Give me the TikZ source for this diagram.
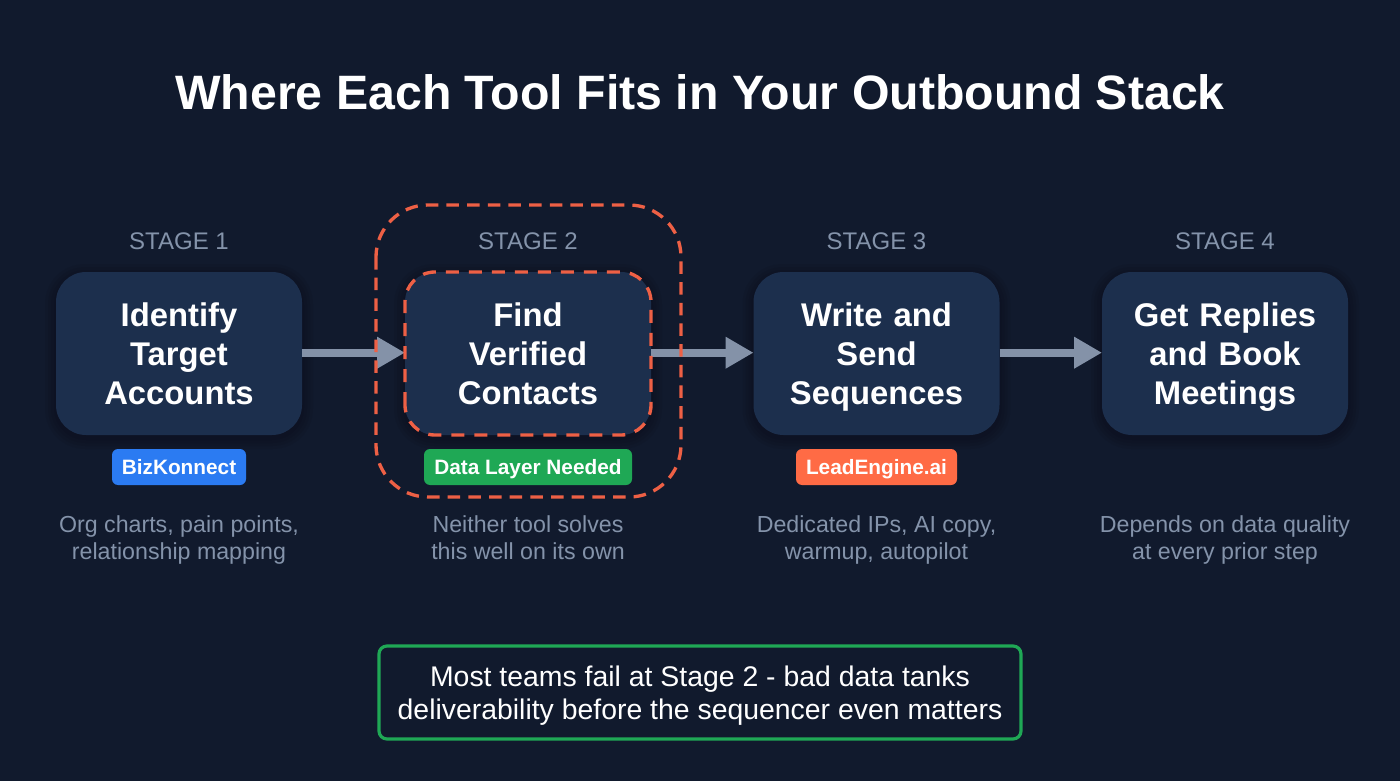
\documentclass[tikz,border=0pt]{standalone}
\usepackage{fontspec}
\setmainfont{Liberation Sans}
\usetikzlibrary{arrows.meta,positioning}
\definecolor{bgc}{HTML}{111A2D}
\definecolor{boxc}{HTML}{1C2F4D}
\definecolor{redc}{HTML}{EE6045}
\definecolor{greenc}{HTML}{1FA855}
\definecolor{bluec}{HTML}{2B7BF2}
\definecolor{orangec}{HTML}{FF6B45}
\definecolor{graytxt}{HTML}{8493AA}
\definecolor{arrowc}{HTML}{8492A8}
\definecolor{notec}{HTML}{111A2D}
\tikzset{
  every node/.style={inner sep=0pt,outer sep=0pt,text=white},
  stage/.style={text width=246*0.75pt,minimum width=246*0.75pt,minimum height=163*0.75pt,rounded corners=22.5pt,fill=boxc,align=center,font=\fontsize{24.6pt}{29.25pt}\selectfont\bfseries},
  stagelabel/.style={text=graytxt,font=\fontsize{18pt}{23pt}\selectfont},
  pill/.style={minimum height=36*0.75pt,rounded corners=4.5pt,font=\fontsize{15.6pt}{18pt}\selectfont\bfseries},
  desc/.style={text=graytxt,align=center,font=\fontsize{17.4pt}{20.25pt}\selectfont},
  flow/.style={draw=arrowc,line width=6pt,-{Triangle[length=21pt,width=22.5pt]}},
  reddash/.style={draw=redc,line width=2.5pt},
  softshadow/.style={fill=black,fill opacity=0.05},
}
% line strut that centres the capitals on the node's centre, whatever the descenders
\newcommand{\sline}[1]{\rule[-0.142em]{0pt}{1em}\smash{#1}}
\begin{document}
\begin{tikzpicture}[x=0.75pt,y=-0.75pt]
\useasboundingbox (0,0) rectangle (1400,781);
\fill[bgc] (0,0) rectangle (1400,781);
\node[font=\fontsize{36.2pt}{46pt}\selectfont\bfseries] (title) at (700,92) {\sline{Where Each Tool Fits in Your Outbound Stack}};
% soft shadows
\foreach \x in {179,528,876.5,1225}{
  \foreach \g/\r in {2/24,5/26,8/28,11/30}{
    \fill[softshadow,rounded corners=\r pt] (\x-123-\g,272+3-\g) rectangle (\x+123+\g,435+3+\g);
  }
}
% stages
\node[stage] (s1) at (179,353.5) {\sline{Identify}\\\sline{Target}\\\sline{Accounts}};
\node[stage] (s2) at (528,353.5) {\sline{Find}\\\sline{Verified}\\\sline{Contacts}};
\node[stage] (s3) at (876.5,353.5) {\sline{Write and}\\\sline{Send}\\\sline{Sequences}};
\node[stage] (s4) at (1225,353.5) {\sline{Get Replies}\\\sline{and Book}\\\sline{Meetings}};
\node[stagelabel] (l1) at (179,241) {\sline{STAGE 1}};
\node[stagelabel] (l2) at (528,241) {\sline{STAGE 2}};
\node[stagelabel] (l3) at (876.5,241) {\sline{STAGE 3}};
\node[stagelabel] (l4) at (1225,241) {\sline{STAGE 4}};
% arrows
\draw[flow] ([yshift=0.6pt]s1.east) -- ([yshift=0.6pt]s2.west);
\draw[flow] ([yshift=0.6pt]s2.east) -- ([yshift=0.6pt]s3.west);
\draw[flow] ([yshift=0.6pt]s3.east) -- ([yshift=0.6pt]s4.west);
% dashed highlights
\draw[reddash,dash pattern=on 9.75pt off 7.5pt,rounded corners=22.5pt] (s2.south west) rectangle (s2.north east);
\draw[reddash,dash pattern=on 9.4pt off 6.1pt,rounded corners=39pt] (376,205) rectangle (681,497);
% pills
\node[pill,fill=bluec,minimum width=134*0.75pt] (p1) at (179,467) {\sline{BizKonnect}};
\node[pill,fill=greenc,minimum width=208*0.75pt] (p2) at (528,467) {\sline{Data Layer Needed}};
\node[pill,fill=orangec,minimum width=161*0.75pt] (p3) at (876.5,467) {\sline{LeadEngine.ai}};
% descriptions
\node[desc] (d1) at (179,538) {\sline{Org charts, pain points,}\\\sline{relationship mapping}};
\node[desc] (d2) at (528,538) {\sline{Neither tool solves}\\\sline{this well on its own}};
\node[desc] (d3) at (876.5,538) {\sline{Dedicated IPs, AI copy,}\\\sline{warmup, autopilot}};
\node[desc] (d4) at (1225,538) {\sline{Depends on data quality}\\\sline{at every prior step}};
% note
\node[draw=greenc,line width=2.4pt,fill=notec,rounded corners=6pt,minimum width=642*0.75pt,minimum height=93*0.75pt,align=center,font=\fontsize{21.3pt}{24.75pt}\selectfont] (note) at (700,692.5) {\sline{Most teams fail at Stage 2 - bad data tanks}\\\sline{deliverability before the sequencer even matters}};
\end{tikzpicture}
\end{document}
